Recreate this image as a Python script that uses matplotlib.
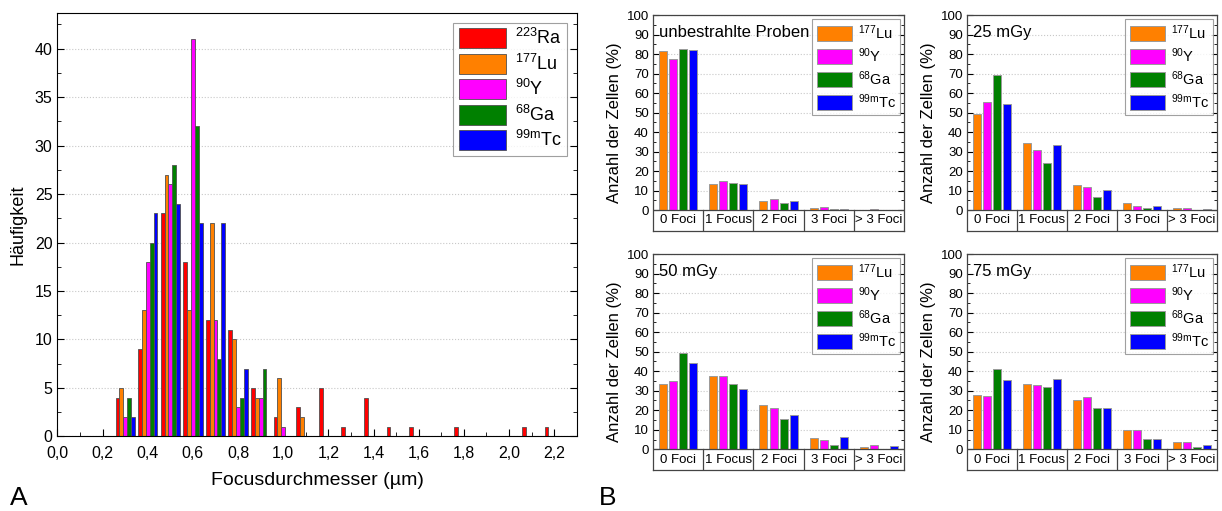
import matplotlib
matplotlib.use("Agg")
import matplotlib.pyplot as plt
from matplotlib.ticker import MultipleLocator, FixedLocator
import numpy as np

plt.rcParams['font.family'] = ['Liberation Sans', 'DejaVu Sans']
plt.rcParams['mathtext.fontset'] = 'custom'
plt.rcParams['mathtext.rm'] = 'Liberation Sans'
plt.rcParams['mathtext.it'] = 'Liberation Sans:italic'
plt.rcParams['mathtext.bf'] = 'Liberation Sans:bold'

# --- panel A: histogram of focus diameters ---
bins = [0.3, 0.4, 0.5, 0.6, 0.7, 0.8, 0.9, 1.0, 1.1, 1.2,
        1.3, 1.4, 1.5, 1.6, 1.7, 1.8, 1.9, 2.0, 2.1, 2.2]
ra223 = [4, 9, 23, 18, 12, 11, 5, 2, 3, 5, 1, 4, 1, 1, 0, 1, 0, 0, 1, 1]
lu177 = [5, 13, 27, 13, 22, 10, 4, 6, 2, 0, 0, 0, 0, 0, 0, 0, 0, 0, 0, 0]
y90 = [2, 18, 26, 41, 12, 3, 4, 1, 0, 0, 0, 0, 0, 0, 0, 0, 0, 0, 0, 0]
ga68 = [4, 20, 28, 32, 8, 4, 7, 0, 0, 0, 0, 0, 0, 0, 0, 0, 0, 0, 0, 0]
tc99m = [2, 23, 24, 22, 22, 7, 0, 0, 0, 0, 0, 0, 0, 0, 0, 0, 0, 0, 0, 0]

hist_labels = [r'$^{223}$Ra', r'$^{177}$Lu', r'$^{90}$Y', r'$^{68}$Ga', r'$^{99\mathrm{m}}$Tc']
hist_colors = ['#ff0000', '#ff8000', '#ff00ff', '#008000', '#0000ff']

# --- panel B: foci per cell (%) ---
categories = ['0 Foci', '1 Focus', '2 Foci', '3 Foci', '> 3 Foci']
b_labels = [r'$^{177}$Lu', r'$^{90}$Y', r'$^{68}$Ga', r'$^{99\mathrm{m}}$Tc']
b_colors = ['#ff8000', '#ff00ff', '#008000', '#0000ff']

ctrl_lu = [81.8, 13.3, 4.4, 0.9, 0.0]
ctrl_y = [77.5, 14.7, 5.8, 1.7, 0.5]
ctrl_ga = [82.4, 13.8, 3.6, 0.5, 0.0]
ctrl_tc = [82.2, 13.2, 4.4, 0.7, 0.0]

g25_lu = [49.4, 34.2, 12.6, 3.4, 0.9]
g25_y = [55.2, 30.8, 11.6, 1.9, 0.9]
g25_ga = [69.4, 23.9, 6.5, 0.9, 0.0]
g25_tc = [54.2, 33.2, 10.4, 2.1, 0.7]

g50_lu = [33.3, 37.4, 22.9, 5.8, 1.4]
g50_y = [35.2, 37.7, 21.0, 4.6, 2.0]
g50_ga = [49.5, 33.3, 15.4, 2.2, 0.3]
g50_tc = [44.0, 30.9, 17.6, 6.1, 1.7]

g75_lu = [27.8, 33.6, 25.3, 10.1, 3.6]
g75_y = [27.1, 32.9, 26.6, 9.7, 3.9]
g75_ga = [41.1, 31.9, 21.2, 5.1, 1.0]
g75_tc = [35.3, 36.2, 21.2, 5.1, 2.4]


def draw_panel(ax, title, series):
    ybot = -10.6
    x = np.arange(len(categories))
    for i, (vals, c, lab) in enumerate(zip(series, b_colors, b_labels)):
        ax.bar(x + (i - 1.5) * 0.2, vals, width=0.16, color=c,
               edgecolor='#9a9a9a', linewidth=0.7, label=lab, zorder=2)
    ax.set_xlim(-0.5, 4.5)
    ax.set_ylim(ybot, 100)
    ax.set_xticks([])
    ax.set_yticks(range(0, 101, 10))
    ax.yaxis.set_minor_locator(FixedLocator(range(5, 100, 10)))
    ax.tick_params(axis='y', which='both', direction='in', right=True,
                   labelsize=9.5, pad=3)
    ax.tick_params(axis='y', which='major', length=4)
    ax.tick_params(axis='y', which='minor', length=2)
    ax.yaxis.grid(True, linestyle=':', color='#c8c8c8', linewidth=0.8)
    ax.set_axisbelow(True)
    ax.axhline(0, color='#444444', linewidth=0.9, zorder=3)
    for b in [0.5, 1.5, 2.5, 3.5]:
        ax.plot([b, b], [ybot, 0], color='#444444', linewidth=0.9)
    for i, cat in enumerate(categories):
        ax.text(i, ybot / 2, cat, ha='center', va='center', fontsize=9.5)
    for s in ax.spines.values():
        s.set_color('#444444')
        s.set_linewidth(0.9)
    ax.set_ylabel('Anzahl der Zellen (%)', fontsize=12, labelpad=3)
    ax.text(0.025, 0.955, title, transform=ax.transAxes, ha='left', va='top',
            fontsize=12)
    leg = ax.legend(loc='upper right', fontsize=10.5, frameon=True, fancybox=False,
                    edgecolor='#888888', handlelength=2.4, handleheight=1.15,
                    labelspacing=0.3, handletextpad=0.4, borderaxespad=0.25,
                    borderpad=0.3)
    leg.get_frame().set_linewidth(0.8)


fig = plt.figure(figsize=(12.22, 5.11), dpi=100)

# panel A
ax = fig.add_axes([0.047, 0.146, 0.425, 0.829])
w = 0.017
hist_series = [ra223, lu177, y90, ga68, tc99m]
for i, (vals, c, lab) in enumerate(zip(hist_series, hist_colors, hist_labels)):
    ax.bar(np.array(bins) + (i - 2) * w, vals, width=w, color=c,
           edgecolor='#505050', linewidth=0.6, label=lab, zorder=2)
ax.set_xlim(0, 2.3)
ax.set_ylim(0, 43.7)
xt = np.arange(0, 2.21, 0.2)
ax.set_xticks(xt)
ax.set_xticklabels([f"{t:.1f}".replace('.', ',') for t in xt])
ax.xaxis.set_minor_locator(MultipleLocator(0.1))
ax.set_yticks(range(0, 41, 5))
ax.yaxis.set_minor_locator(MultipleLocator(2.5))
ax.tick_params(which='both', direction='in', right=True, labelsize=11.5)
ax.tick_params(axis='x', pad=7)
ax.tick_params(which='major', length=5)
ax.tick_params(which='minor', length=3)
ax.yaxis.grid(True, linestyle=':', color='#c8c8c8', linewidth=0.8)
ax.set_axisbelow(True)
ax.set_xlabel('Focusdurchmesser (µm)', fontsize=14, labelpad=8)
ax.set_ylabel('Häufigkeit', fontsize=13, labelpad=6)
leg = ax.legend(loc='upper right', fontsize=13, frameon=True, fancybox=False,
                edgecolor='#888888', handlelength=2.6, handleheight=1.3,
                labelspacing=0.3, handletextpad=0.5, borderaxespad=0.55,
                borderpad=0.3)
leg.get_frame().set_linewidth(0.8)

# panel B
ax1 = fig.add_axes([0.5344, 0.5485, 0.2054, 0.4221])
ax2 = fig.add_axes([0.7913, 0.5485, 0.2046, 0.4221])
ax3 = fig.add_axes([0.5344, 0.0802, 0.2054, 0.4227])
ax4 = fig.add_axes([0.7913, 0.0802, 0.2046, 0.4227])
draw_panel(ax1, 'unbestrahlte Proben', [ctrl_lu, ctrl_y, ctrl_ga, ctrl_tc])
draw_panel(ax2, '25 mGy', [g25_lu, g25_y, g25_ga, g25_tc])
draw_panel(ax3, '50 mGy', [g50_lu, g50_y, g50_ga, g50_tc])
draw_panel(ax4, '75 mGy', [g75_lu, g75_y, g75_ga, g75_tc])

fig.text(0.008, 0.012, 'A', fontsize=19)
fig.text(0.490, 0.012, 'B', fontsize=19)

fig.savefig('out.png', dpi=100)
